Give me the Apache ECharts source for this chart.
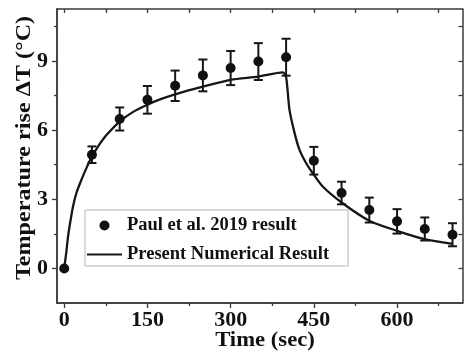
<!DOCTYPE html>
<html>
<head>
<meta charset="utf-8">
<script src="https://cdn.jsdelivr.net/npm/echarts@6/dist/echarts.min.js"></script>
<style>html,body{margin:0;padding:0;background:#fff;}#c{width:464px;height:362px;}</style>
</head>
<body>
<div id="c"></div>
<script>
// Experimental data (Paul et al. 2019)
const timeExp = [0, 50, 100, 150, 200, 250, 300, 350, 400, 450, 500, 550, 600, 650, 700];
const tempExp = [0, 4.93, 6.48, 7.31, 7.92, 8.37, 8.69, 8.97, 9.16, 4.67, 3.27, 2.53, 2.04, 1.71, 1.46];
const errExp  = [0, 0.36, 0.5, 0.6, 0.66, 0.69, 0.74, 0.8, 0.8, 0.6, 0.49, 0.54, 0.53, 0.5, 0.5];
// Present numerical result
const timeNum = [0, 4, 7, 11.5, 16, 22, 31, 40, 50, 60, 75, 100, 125, 150, 175, 200, 250, 300, 350, 394, 400, 406, 415, 424, 436, 448, 466, 500, 550, 600, 650, 700];
const tempNum = [0, 0.75, 1.4, 2.1, 2.7, 3.27, 3.84, 4.35, 4.85, 5.25, 5.75, 6.37, 6.8, 7.1, 7.35, 7.55, 7.88, 8.18, 8.32, 8.5, 8.3, 6.9, 5.9, 5.15, 4.57, 4.13, 3.55, 2.86, 2.07, 1.63, 1.27, 1.06];
// Axes
const xLabels = [0, 150, 300, 450, 600];
const xMinor = [75, 225, 375, 525, 675];
const yLabels = [0, 3, 6, 9];
const yMinor = [1.5, 4.5, 7.5, 10.5];
const xAll = [0, 75, 150, 225, 300, 375, 450, 525, 600, 675];
const yAll = [0, 1.5, 3, 4.5, 6, 7.5, 9, 10.5];
const seriesNames = ['Paul et al. 2019 result', 'Present Numerical Result'];
const xTitle = 'Time (sec)';
const yTitle = 'Temperature rise \u0394T (\u00B0C)';

const FONT = '"Liberation Serif", "Times New Roman", serif';
const AX = '#3a3a3a';
const X_MIN = -13, X_MAX = 718, Y_MIN = -1.5, Y_MAX = 11.25;

function xAxisDef(opts) {
  return Object.assign({
    type: 'value', gridIndex: 0, min: X_MIN, max: X_MAX, position: 'bottom',
    splitLine: { show: false },
    axisLine: { show: true, onZero: false, lineStyle: { color: AX, width: 1.5 } },
    axisLabel: { show: false },
    axisTick: { show: false }
  }, opts);
}
function yAxisDef(opts) {
  return Object.assign({
    type: 'value', gridIndex: 0, min: Y_MIN, max: Y_MAX, position: 'left',
    splitLine: { show: false },
    axisLine: { show: true, onZero: false, lineStyle: { color: AX, width: 1.5 } },
    axisLabel: { show: false },
    axisTick: { show: false }
  }, opts);
}

const chart = echarts.init(document.getElementById('c'), null, { renderer: 'canvas' });
chart.setOption({
  animation: false,
  backgroundColor: '#fff',
  grid: { left: 57, right: 1.5, top: 9, bottom: 59, containLabel: false },
  xAxis: [
    xAxisDef({
      axisLabel: { show: true, customValues: xLabels, fontFamily: FONT, fontWeight: 'bold', fontSize: 22, color: '#111', margin: 6 },
      axisTick: { show: true, customValues: xLabels, inside: false, length: 5, lineStyle: { color: AX, width: 1.3 } }
    }),
    xAxisDef({
      axisTick: { show: true, customValues: xMinor, inside: false, length: 3, lineStyle: { color: AX, width: 1.3 } }
    }),
    xAxisDef({
      position: 'top',
      axisTick: { show: true, customValues: xAll, inside: true, length: 4, lineStyle: { color: AX, width: 1.3 } }
    })
  ],
  yAxis: [
    yAxisDef({
      axisLabel: { show: true, customValues: yLabels, fontFamily: FONT, fontWeight: 'bold', fontSize: 22, color: '#111', margin: 9 },
      axisTick: { show: true, customValues: yLabels, inside: false, length: 5, lineStyle: { color: AX, width: 1.3 } }
    }),
    yAxisDef({
      axisTick: { show: true, customValues: yMinor, inside: false, length: 3, lineStyle: { color: AX, width: 1.3 } }
    }),
    yAxisDef({
      position: 'right',
      axisTick: { show: true, customValues: yAll, inside: true, length: 4, lineStyle: { color: AX, width: 1.3 } }
    })
  ],
  legend: {
    orient: 'vertical', left: 85, top: 210,
    padding: [6, 19, 2, 2], itemGap: 10, itemWidth: 35, itemHeight: 10,
    borderColor: '#b5b5b5', borderWidth: 1, backgroundColor: '#fff',
    symbolKeepAspect: true,
    textStyle: { fontFamily: FONT, fontWeight: 'bold', fontSize: 18.5, color: '#111' },
    data: [
      { name: seriesNames[0], icon: 'circle', itemStyle: { color: '#111', opacity: 1 } },
      { name: seriesNames[1], icon: 'path://M0,0 L35,0 L35,2.2 L0,2.2 Z', itemStyle: { color: '#161616', opacity: 1 } }
    ]
  },
  series: [
    {
      type: 'line', name: seriesNames[1], xAxisIndex: 0, yAxisIndex: 0,
      data: timeNum.map((t, i) => [t, tempNum[i]]),
      symbol: 'none', showSymbol: false, smooth: 0.25, z: 2,
      lineStyle: { color: '#161616', width: 2.3 },
      itemStyle: { color: '#161616' }
    },
    {
      type: 'custom', xAxisIndex: 0, yAxisIndex: 0, z: 3,
      data: timeExp.map((t, i) => [t, tempExp[i], errExp[i]]),
      renderItem: function (params, api) {
        const x = api.value(0), y = api.value(1), e = api.value(2);
        if (!e) return null;
        const top = api.coord([x, y + e]);
        const bot = api.coord([x, y - e]);
        const hw = 4.5;
        const st = { stroke: '#161616', lineWidth: 2, fill: null };
        return {
          type: 'group',
          children: [
            { type: 'line', shape: { x1: top[0], y1: top[1], x2: bot[0], y2: bot[1] }, style: st },
            { type: 'line', shape: { x1: top[0] - hw, y1: top[1], x2: top[0] + hw, y2: top[1] }, style: st },
            { type: 'line', shape: { x1: bot[0] - hw, y1: bot[1], x2: bot[0] + hw, y2: bot[1] }, style: st }
          ]
        };
      }
    },
    {
      type: 'scatter', name: seriesNames[0], xAxisIndex: 0, yAxisIndex: 0, z: 4,
      data: timeExp.map((t, i) => [t, tempExp[i]]),
      symbol: 'circle', symbolSize: 10,
      itemStyle: { color: '#111', opacity: 1 }
    }
  ],
  graphic: [
    {
      type: 'text', x: 265, y: 341, scaleX: 1.08,
      style: { text: xTitle, font: 'bold 21px ' + FONT, fill: '#111', textAlign: 'center', textVerticalAlign: 'middle' }
    },
    {
      type: 'text', x: 25, y: 148, rotation: Math.PI / 2, scaleX: 1.15,
      style: { text: yTitle, font: 'bold 21px ' + FONT, fill: '#111', textAlign: 'center', textVerticalAlign: 'middle' }
    }
  ]
});
</script>
</body>
</html>
